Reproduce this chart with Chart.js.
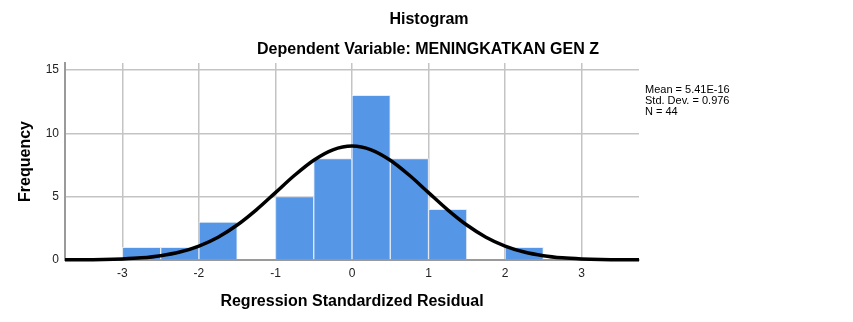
<!DOCTYPE html>
<html>
<head>
<meta charset="utf-8">
<script src="https://cdn.jsdelivr.net/npm/chart.js@4/dist/chart.umd.min.js"></script>
<style>
  html, body { margin: 0; padding: 0; background: #fff; }
  #wrap { width: 853px; height: 322px; position: relative; }
</style>
</head>
<body>
<div id="wrap"><canvas id="c" width="853" height="322"></canvas></div>
<script>
// Histogram bins (centre of each 0.5-wide bin) and their counts
const binCenters = [-2.75, -2.25, -1.75, -0.75, -0.25, 0.25, 0.75, 1.25, 2.25];
const binCounts  = [1, 1, 3, 5, 8, 13, 8, 4, 1];

// Fitted normal curve, sampled every 0.25
const curveX = [-3.75, -3.5, -3.25, -3, -2.75, -2.5, -2.25, -2, -1.75, -1.5, -1.25, -1, -0.75, -0.5, -0.25,
                0, 0.25, 0.5, 0.75, 1, 1.25, 1.5, 1.75, 2, 2.25, 2.5, 2.75, 3, 3.25, 3.5, 3.75];
const curveY = [0.01, 0.01, 0.03, 0.08, 0.17, 0.34, 0.63, 1.1, 1.8, 2.76, 3.96, 5.32, 6.69, 7.88, 8.7,
                8.99, 8.7, 7.88, 6.69, 5.32, 3.96, 2.76, 1.8, 1.1, 0.63, 0.34, 0.17, 0.08, 0.03, 0.01, 0.01];

// Axis ticks and texts
const xTicks = [-3, -2, -1, 0, 1, 2, 3];
const yTicks = [0, 5, 10, 15];
const titleLines = ['Histogram', 'Dependent Variable: MENINGKATKAN GEN Z'];
const statLines = ['Mean = 5.41E-16', 'Std. Dev. = 0.976', 'N = 44'];

const FONT = "'Liberation Sans', Arial, sans-serif";

const barData = binCenters.map((x, i) => ({ x: x, y: binCounts[i] }));
const curveData = curveX.map((x, i) => ({ x: x, y: curveY[i] }));

// Titles above the plot and the statistics box on the right
const textPlugin = {
  id: 'textPlugin',
  afterDraw(chart) {
    const ctx = chart.ctx;
    const area = chart.chartArea;
    ctx.save();
    ctx.fillStyle = '#000';
    ctx.textAlign = 'center';
    ctx.textBaseline = 'middle';
    ctx.font = 'bold 16px ' + FONT;
    ctx.fillText(titleLines[0], 429, 20);
    ctx.fillText(titleLines[1], 428, 50);
    ctx.textAlign = 'left';
    ctx.font = '11px ' + FONT;
    statLines.forEach((t, i) => ctx.fillText(t, area.right + 6, 90 + i * 11));
    ctx.restore();
  }
};

new Chart(document.getElementById('c'), {
  type: 'bar',
  data: {
    datasets: [
      {
        type: 'line',
        data: curveData,
        borderColor: '#000',
        borderWidth: 3.5,
        pointRadius: 0,
        cubicInterpolationMode: 'monotone',
        fill: false,
        clip: false,
        order: 0
      },
      {
        type: 'bar',
        data: barData,
        backgroundColor: '#5596e6',
        borderColor: '#e4ecf6',
        borderWidth: 1,
        barPercentage: 1,
        categoryPercentage: 1,
        order: 1
      }
    ]
  },
  options: {
    responsive: false,
    animation: false,
    events: [],
    layout: { padding: { left: 0, top: 63, right: 214, bottom: 0 } },
    plugins: { legend: { display: false }, tooltip: { enabled: false } },
    scales: {
      x: {
        type: 'linear',
        min: -3.75,
        max: 3.75,
        offset: false,
        afterBuildTicks(scale) { scale.ticks = xTicks.map(v => ({ value: v })); },
        afterFit(scale) { scale.height = 62; },
        grid: { color: '#c4c4c4', lineWidth: 1.5, drawTicks: false, offset: false },
        border: { display: true, color: '#9a9a9a', width: 2 },
        ticks: { color: '#222', font: { family: FONT, size: 12 }, padding: 6, maxRotation: 0 },
        title: {
          display: true,
          text: 'Regression Standardized Residual',
          color: '#000',
          font: { family: FONT, size: 16, weight: 'bold' },
          padding: { top: 0, bottom: 11 }
        }
      },
      y: {
        type: 'linear',
        min: 0,
        max: 15.55,
        afterBuildTicks(scale) { scale.ticks = yTicks.map(v => ({ value: v })); },
        afterFit(scale) { scale.width = 65; },
        grid: { color: '#c4c4c4', lineWidth: 1.5, drawTicks: false },
        border: { display: true, color: '#9a9a9a', width: 2 },
        ticks: { color: '#222', font: { family: FONT, size: 12 }, padding: 6 },
        title: {
          display: true,
          text: 'Frequency',
          color: '#000',
          font: { family: FONT, size: 16, weight: 'bold' },
          padding: { top: 16, bottom: 0 }
        }
      }
    }
  },
  plugins: [textPlugin]
});
</script>
</body>
</html>
